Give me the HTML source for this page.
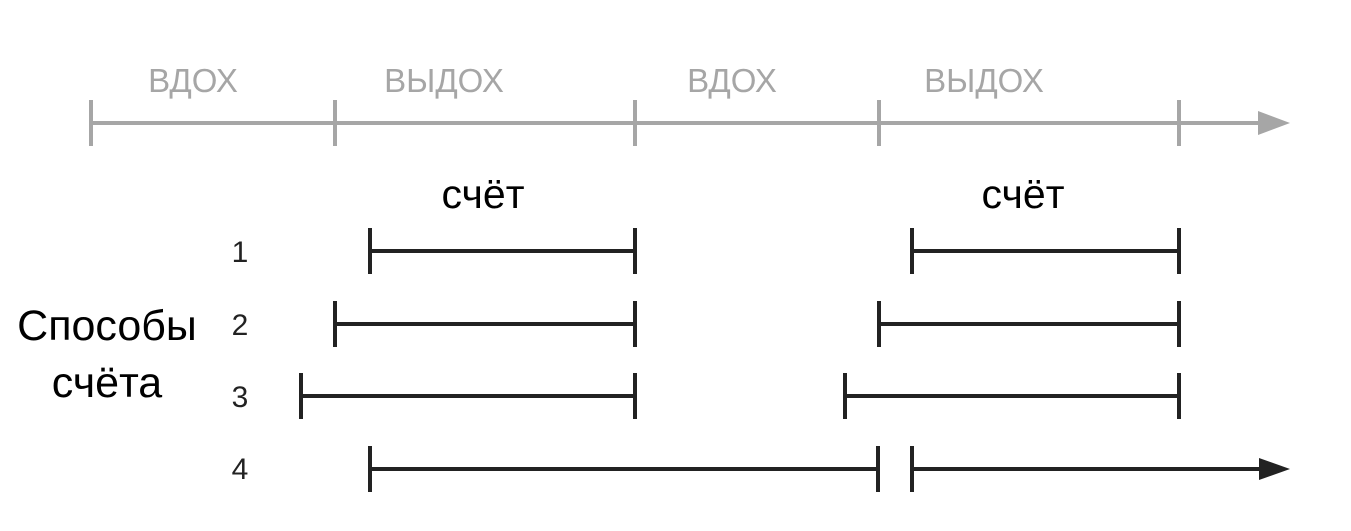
<!DOCTYPE html>
<html><head><meta charset="utf-8"><style>html,body{margin:0;padding:0;background:#fff}</style></head><body>
<svg width="1351" height="531" xmlns="http://www.w3.org/2000/svg" style="display:block">
<g font-family="Liberation Sans, DejaVu Sans, sans-serif">
<g stroke="#a6a6a6" stroke-width="4">
<line x1="91" y1="123" x2="1262" y2="123"/>
<line x1="91" y1="100" x2="91" y2="146"/>
<line x1="335" y1="100" x2="335" y2="146"/>
<line x1="635" y1="100" x2="635" y2="146"/>
<line x1="879" y1="100" x2="879" y2="146"/>
<line x1="1179" y1="100" x2="1179" y2="146"/>
</g>
<polygon points="1258,111 1290,123 1258,135" fill="#a6a6a6"/>
<g fill="#a6a6a6" font-size="33" text-anchor="middle">
<text x="193" y="92">ВДОХ</text>
<text x="444" y="92">ВЫДОХ</text>
<text x="732" y="92">ВДОХ</text>
<text x="984" y="92">ВЫДОХ</text>
</g>
<g fill="#000" text-anchor="middle">
<text x="483" y="208" font-size="41">счёт</text>
<text x="1023" y="208" font-size="41">счёт</text>
<text x="107" y="340" font-size="43">Способы</text>
<text x="107" y="397" font-size="43">счёта</text>
</g>
<g fill="#222" font-size="30" text-anchor="middle">
<text x="240" y="262">1</text>
<text x="240" y="335">2</text>
<text x="240" y="407">3</text>
<text x="240" y="479">4</text>
</g>
<g stroke="#222" stroke-width="4">
<line x1="370" y1="251" x2="635" y2="251"/><line x1="370" y1="228" x2="370" y2="274"/><line x1="635" y1="228" x2="635" y2="274"/>
<line x1="912" y1="251" x2="1179" y2="251"/><line x1="912" y1="228" x2="912" y2="274"/><line x1="1179" y1="228" x2="1179" y2="274"/>
<line x1="335" y1="324" x2="635" y2="324"/><line x1="335" y1="301" x2="335" y2="347"/><line x1="635" y1="301" x2="635" y2="347"/>
<line x1="879" y1="324" x2="1179" y2="324"/><line x1="879" y1="301" x2="879" y2="347"/><line x1="1179" y1="301" x2="1179" y2="347"/>
<line x1="301" y1="396" x2="635" y2="396"/><line x1="301" y1="373" x2="301" y2="419"/><line x1="635" y1="373" x2="635" y2="419"/>
<line x1="845" y1="396" x2="1179" y2="396"/><line x1="845" y1="373" x2="845" y2="419"/><line x1="1179" y1="373" x2="1179" y2="419"/>
<line x1="370" y1="469" x2="878" y2="469"/><line x1="370" y1="446" x2="370" y2="492"/><line x1="878" y1="446" x2="878" y2="492"/>
<line x1="912" y1="469" x2="1262" y2="469"/><line x1="912" y1="446" x2="912" y2="492"/>
</g>
<polygon points="1259,458 1290,469 1259,480" fill="#222"/>
</g>
</svg>
</body></html>
